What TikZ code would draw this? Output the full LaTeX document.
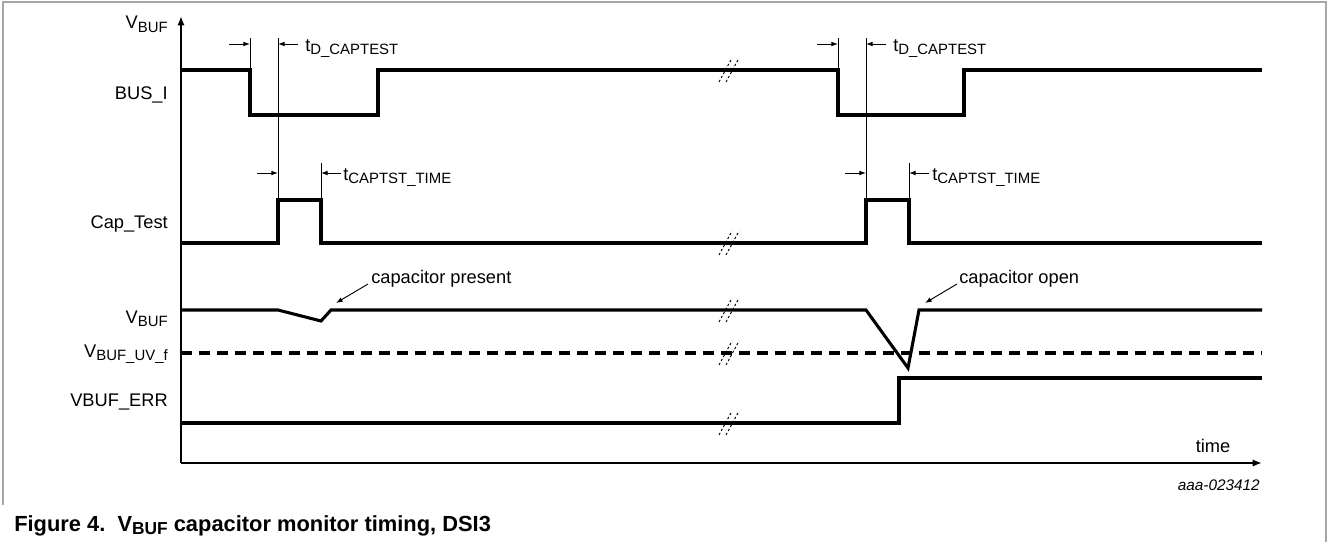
\documentclass[tikz,border=0pt]{standalone}
\usepackage{fontspec}
\setmainfont{Liberation Sans}
\usetikzlibrary{arrows.meta}
\newcommand{\lowsub}[1]{\raisebox{-2.5pt}{\fontsize{11.2}{12}\selectfont #1}}
\newcommand{\lowsubB}[1]{\raisebox{-2.8pt}{\fontsize{13}{14}\selectfont #1}}
\begin{document}
\begin{tikzpicture}[x=0.75pt,y=-0.75pt,
 sig/.style={line width=2.3pt, line join=miter},
 axisline/.style={line width=1.4pt, -{Latex[length=7pt,width=5.5pt]}},
 dimline/.style={line width=0.7pt},
 dimarrow/.style={line width=0.7pt, -{Latex[length=5pt,width=3.6pt]}},
 lbl/.style={font=\fontsize{13.7}{15}\selectfont, inner sep=0pt},
 brk/.style={line width=0.7pt, dash pattern=on 1.8pt off 1.6pt},
 thr/.style={line width=2.3pt, dash pattern=on 8.3pt off 5.2pt},
]
\useasboundingbox (0,0) rectangle (1330,542);
\draw[gray!70, line width=1.2pt] (3,505) -- (3,2) -- (1326,2) -- (1326,542);

% axes
\coordinate (O) at (181,463);
\coordinate (ytip) at (181,16);
\coordinate (xtip) at (1262,463);
\draw[axisline] (O) -- (ytip);
\draw[axisline] (O) -- (xtip);

% labels
\node[lbl, anchor=base east] (lvaxis) at (168,29) {V\lowsub{BUF}};
\node[lbl, anchor=base east] (lbus) at (168,99) {BUS\_I};
\node[lbl, anchor=base east] (lcap) at (168,228) {Cap\_Test};
\node[lbl, anchor=base east] (lvbuf) at (168,323) {V\lowsub{BUF}};
\node[lbl, anchor=base east] (luv) at (168,357) {V\lowsub{BUF\_UV\_f}};
\node[lbl, anchor=base east] (lerr) at (168,406) {VBUF\_ERR};
\node[lbl, anchor=base] (ltime) at (1213,452) {time};
\node[inner sep=0pt, anchor=base east, font=\fontsize{11.5}{13}\selectfont\itshape] (lref) at (1260,490) {aaa-023412};
\node[inner sep=0pt, anchor=base west, font=\fontsize{16.4}{18}\selectfont\bfseries] (lcaption) at (14,531) {Figure 4.\ \ V\lowsubB{BUF} capacitor monitor timing, DSI3};

% signals
\draw[sig] (181,70) -- (250,70) -- (250,115) -- (378,115) -- (378,70) -- (838,70) -- (838,115) -- (964,115) -- (964,70) -- (1262,70);
\draw[sig] (181,243) -- (278,243) -- (278,200) -- (321,200) -- (321,243) -- (866,243) -- (866,200) -- (909,200) -- (909,243) -- (1262,243);
\draw[sig] (181,310) -- (278,310) -- (321,321) -- (331,310) -- (866,310) -- (908,368) -- (919,310) -- (1262,310);
\draw[thr] (181,353) -- (1262,353);
\draw[sig] (181,423) -- (899,423) -- (899,378) -- (1262,378);

% break marks
\foreach \yy in {70,243,310,353,423}{
  \draw[brk] (719,\yy+12) -- (732,\yy-12);
  \draw[brk] (726,\yy+12) -- (739,\yy-12);
}

% dimension lines (first)
\draw[dimline] (250,38) -- (250,70);
\draw[dimline] (278,38) -- (278,200);
\draw[dimline] (321,163) -- (321,200);
\draw[dimarrow] (229,44) -- (250,44);
\draw[dimarrow] (298,44) -- (278,44);
\draw[dimarrow] (257,173) -- (278,173);
\draw[dimarrow] (341,173) -- (321,173);
\node[lbl, anchor=base west] (td1) at (305,51) {t\lowsub{D\_CAPTEST}};
\node[lbl, anchor=base west] (tc1) at (343,180) {t\lowsub{CAPTST\_TIME}};

% dimension lines (second)
\draw[dimline] (838,38) -- (838,70);
\draw[dimline] (866,38) -- (866,200);
\draw[dimline] (909,163) -- (909,200);
\draw[dimarrow] (817,44) -- (838,44);
\draw[dimarrow] (886,44) -- (866,44);
\draw[dimarrow] (845,173) -- (866,173);
\draw[dimarrow] (929,173) -- (909,173);
\node[lbl, anchor=base west] (td2) at (893,51) {t\lowsub{D\_CAPTEST}};
\node[lbl, anchor=base west] (tc2) at (932,180) {t\lowsub{CAPTST\_TIME}};

% annotations
\node[lbl, anchor=base west] (cpres) at (371,283) {capacitor present};
\node[lbl, anchor=base west] (copen) at (959,283) {capacitor open};
\coordinate (cpresA) at (368,284);
\coordinate (cpresB) at (336,303);
\coordinate (copenA) at (957,284);
\coordinate (copenB) at (925,303);
\draw[dimarrow] (cpresA) -- (cpresB);
\draw[dimarrow] (copenA) -- (copenB);
\end{tikzpicture}
\end{document}
